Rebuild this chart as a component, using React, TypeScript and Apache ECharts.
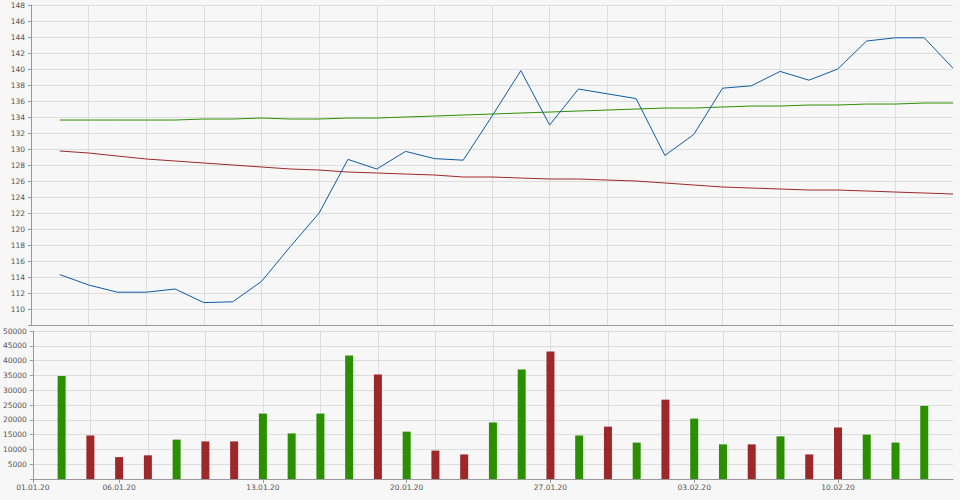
import React, { useEffect, useRef } from "react";
import * as echarts from "echarts";

const categories = [
  "01.01.20", "02.01.20", "03.01.20", "06.01.20", "07.01.20", "08.01.20", "09.01.20", "10.01.20",
  "13.01.20", "14.01.20", "15.01.20", "16.01.20", "17.01.20", "20.01.20", "21.01.20", "22.01.20",
  "23.01.20", "24.01.20", "27.01.20", "28.01.20", "29.01.20", "30.01.20", "31.01.20", "03.02.20",
  "04.02.20", "05.02.20", "06.02.20", "07.02.20", "10.02.20", "11.02.20", "12.02.20", "13.02.20",
  "14.02.20",
];

const tickLabels = ["01.01.20", "06.01.20", "13.01.20", "20.01.20", "27.01.20", "03.02.20", "10.02.20"];

const price = [
  null, 114.3, 113.0, 112.1, 112.1, 112.5, 110.8, 110.9, 113.45, 117.8, 122.0, 128.7, 127.5, 129.7,
  128.8, 128.6, 134.1, 139.8, 133.0, 137.5, 136.9, 136.3, 129.2, 131.8, 137.6, 137.9, 139.7, 138.6,
  140.0, 143.5, 143.9, 143.9, 140.1,
];

const avgGreen = [
  null, 133.62, 133.62, 133.62, 133.62, 133.62, 133.75, 133.75, 133.87, 133.75, 133.75, 133.87,
  133.87, 134.0, 134.12, 134.25, 134.37, 134.5, 134.62, 134.75, 134.87, 135.0, 135.12, 135.12,
  135.25, 135.37, 135.37, 135.5, 135.5, 135.62, 135.62, 135.75, 135.75,
];

const avgRed = [
  null, 129.75, 129.5, 129.12, 128.75, 128.5, 128.25, 128.0, 127.75, 127.5, 127.37, 127.12, 127.0,
  126.87, 126.75, 126.5, 126.5, 126.37, 126.25, 126.25, 126.12, 126.0, 125.75, 125.5, 125.25,
  125.12, 125.0, 124.87, 124.87, 124.75, 124.62, 124.5, 124.37,
];

const volume = [
  null, 34800, 14700, 7400, 8000, 13300, 12700, 12700, 22100, 15400, 22100, 41700, 35300, 16000,
  9600, 8300, 19100, 37000, 43100, 14700, 17700, 12300, 26800, 20400, 11700, 11700, 14400, 8300,
  17400, 15000, 12300, 24700, null,
];

// 1 = green (up), 0 = red (down)
const volumeUp = [
  0, 1, 0, 0, 0, 1, 0, 0, 1, 1, 1, 1, 0, 1, 0, 0, 1, 1, 0, 1, 0, 1, 0, 1, 1, 0, 1, 0, 0, 1, 1, 1, 0,
];

const GREEN = "#2b9000";
const RED = "#9e2829";
const BLUE = "#0e5ca6";
const LABEL = "#555555";
const GRID = "#dddddd";
const AXIS = "#999999";
const FONT = "DejaVu Sans";

export default function App() {
  const ref = useRef<HTMLDivElement>(null);

  useEffect(() => {
    if (!ref.current) return;
    const chart = echarts.init(ref.current, undefined, { renderer: "svg" });
    const isTick = (i: number) => tickLabels.indexOf(categories[i]) >= 0;
    const split = (i: number) => i % 2 === 0 && i < categories.length - 1;

    chart.setOption({
      animation: false,
      backgroundColor: "#f7f7f7",
      grid: [
        { left: 31, right: 7, top: 5, height: 320 },
        { left: 31, right: 7, top: 331, height: 148 },
      ],
      xAxis: [
        {
          type: "category",
          gridIndex: 0,
          data: categories,
          boundaryGap: false,
          axisLine: { show: true, lineStyle: { color: AXIS, width: 1 } },
          axisTick: { show: false },
          axisLabel: { show: false },
          splitLine: { show: true, interval: split, lineStyle: { color: GRID, width: 1 } },
        },
        {
          type: "category",
          gridIndex: 1,
          data: categories,
          boundaryGap: false,
          axisLine: { show: true, lineStyle: { color: AXIS, width: 1 } },
          axisTick: { show: true, interval: isTick, length: 4, lineStyle: { color: AXIS } },
          axisLabel: {
            show: true,
            interval: isTick,
            color: LABEL,
            fontFamily: FONT,
            fontSize: 7.5,
            margin: 4,
          },
          splitLine: { show: true, interval: split, lineStyle: { color: GRID, width: 1 } },
        },
      ],
      yAxis: [
        {
          type: "value",
          gridIndex: 0,
          min: 108,
          max: 148,
          interval: 2,
          axisLine: { show: true, lineStyle: { color: AXIS, width: 1 } },
          axisTick: { show: true, length: 3, lineStyle: { color: AXIS } },
          axisLabel: {
            color: LABEL,
            fontFamily: FONT,
            fontSize: 7.5,
            margin: 6,
            formatter: (v: number) => (v === 108 ? "" : String(v)),
          },
          splitLine: { show: true, lineStyle: { color: GRID, width: 1 } },
        },
        {
          type: "value",
          gridIndex: 1,
          min: 0,
          max: 50000,
          interval: 5000,
          axisLine: { show: true, lineStyle: { color: AXIS, width: 1 } },
          axisTick: { show: true, length: 3, lineStyle: { color: AXIS } },
          axisLabel: {
            color: LABEL,
            fontFamily: FONT,
            fontSize: 7.5,
            margin: 6,
            formatter: (v: number) => (v === 0 ? "" : String(v)),
          },
          splitLine: { show: true, lineStyle: { color: GRID, width: 1 } },
        },
      ],
      series: [
        {
          type: "line",
          xAxisIndex: 0,
          yAxisIndex: 0,
          data: avgGreen,
          showSymbol: false,
          lineStyle: { color: GREEN, width: 1 },
          z: 2,
        },
        {
          type: "line",
          xAxisIndex: 0,
          yAxisIndex: 0,
          data: avgRed,
          showSymbol: false,
          lineStyle: { color: RED, width: 1 },
          z: 2,
        },
        {
          type: "line",
          xAxisIndex: 0,
          yAxisIndex: 0,
          data: price,
          showSymbol: false,
          lineStyle: { color: BLUE, width: 1 },
          z: 3,
        },
        {
          type: "bar",
          xAxisIndex: 1,
          yAxisIndex: 1,
          barWidth: 8,
          data: volume.map((v, i) => ({
            value: v,
            itemStyle: { color: volumeUp[i] ? GREEN : RED },
          })),
        },
      ],
    });
    return () => chart.dispose();
  }, []);

  return (
    <div
      ref={ref}
      style={{ position: "fixed", left: 0, top: 0, width: 960, height: 500 }}
    />
  );
}
